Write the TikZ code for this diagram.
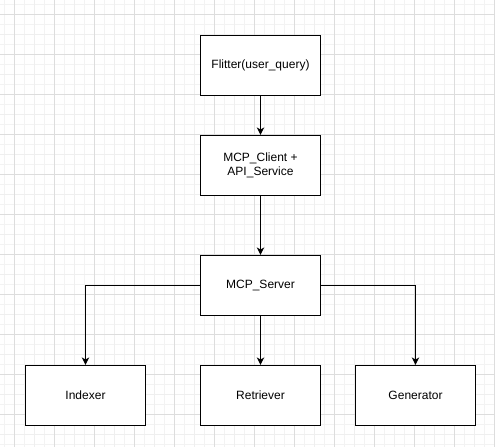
\documentclass[tikz,border=0pt]{standalone}
\usepackage{fontspec}
\setmainfont{Liberation Sans}
\usetikzlibrary{arrows.meta}
\definecolor{gridminor}{HTML}{F3F3F3}
\definecolor{gridmajor}{HTML}{DDDDDD}
\tikzset{
  box/.style={draw=black, line width=1pt, fill=white, minimum width=90pt, minimum height=45pt, inner sep=2pt, align=center, font=\fontsize{9pt}{11pt}\selectfont},
  conn/.style={draw=black, line width=0.9pt, -{Stealth[length=5.5pt,width=5.5pt,inset=1.5pt]}}
}
\begin{document}
\begin{tikzpicture}[x=0.75pt,y=-0.75pt]
\useasboundingbox (0,0) rectangle (495,447);
\fill[white] (0,0) rectangle (495,447);
% minor grid
\foreach \x in {4,24,...,494} \draw[gridminor, line width=0.75pt] (\x,0) -- (\x,447);
\foreach \y in {4,24,...,444} \draw[gridminor, line width=0.75pt] (0,\y) -- (495,\y);
% medium grid lines (every 20 offset 14 but not major)
\foreach \x in {34,74,...,494} \draw[gridminor!80!gridmajor, line width=0.75pt] (\x,0) -- (\x,447);
\foreach \y in {34,74,...,444} \draw[gridminor!80!gridmajor, line width=0.75pt] (0,\y) -- (495,\y);
% major grid
\foreach \x in {14,54,...,494} \draw[gridmajor, line width=0.75pt] (\x,0) -- (\x,447);
\foreach \y in {14,54,...,444} \draw[gridmajor, line width=0.75pt] (0,\y) -- (495,\y);

\node[box] (f) at (260.5,65.5) {Flitter(user\_query)};
\node[box] (c) at (260.5,165.5) {MCP\_Client +\\API\_Service};
\node[box] (s) at (260.5,285.5) {MCP\_Server};
\node[box] (i) at (85.5,395.5) {Indexer};
\node[box] (r) at (260.5,395.5) {Retriever};
\node[box] (g) at (415.5,395.5) {Generator};

\draw[conn] (f) -- (c);
\draw[conn] (c) -- (s);
\draw[conn] (s) -- (r);
\draw[conn] (s.west) -| (i.north);
\draw[conn] (s.east) -| (g.north);
\end{tikzpicture}
\end{document}
